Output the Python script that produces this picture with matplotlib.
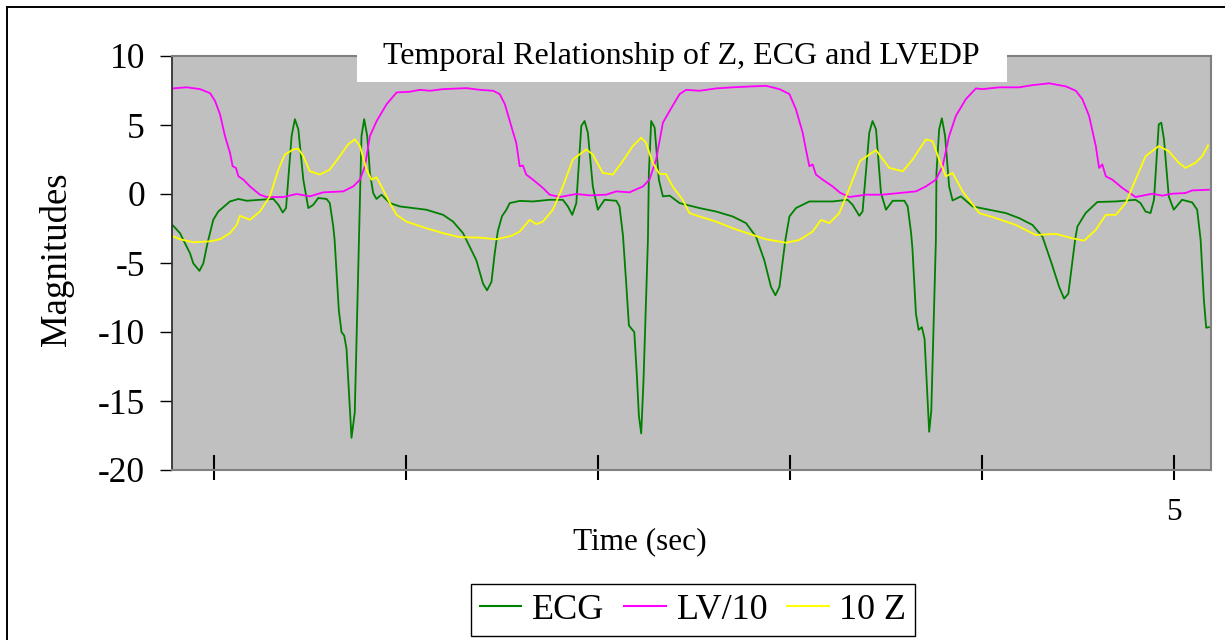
import matplotlib
matplotlib.use('Agg')
import matplotlib.pyplot as plt
from matplotlib.patches import Rectangle

plt.rcParams['font.family'] = ['Liberation Serif', 'DejaVu Serif']

# ---------------- data (time in seconds, magnitudes) ----------------
ecg_t = [-0.217, -0.177, -0.160, -0.125, -0.108, -0.076, -0.056, -0.038, -0.030, -0.004,
         0.022, 0.083, 0.127, 0.170, 0.239, 0.309, 0.335, 0.358, 0.375, 0.404,
         0.421, 0.439, 0.465, 0.491, 0.517, 0.543, 0.586, 0.603, 0.621, 0.628,
         0.650, 0.664, 0.678, 0.690, 0.716, 0.733, 0.742, 0.754, 0.768, 0.782,
         0.798, 0.812, 0.829, 0.846, 0.872, 0.916, 0.968, 1.106, 1.193, 1.245,
         1.297, 1.349, 1.366, 1.401, 1.422, 1.445, 1.462, 1.478, 1.500, 1.523,
         1.540, 1.592, 1.661, 1.748, 1.817, 1.843, 1.866, 1.887, 1.913, 1.930,
         1.947, 1.973, 1.999, 2.034, 2.095, 2.112, 2.130, 2.147, 2.161, 2.189,
         2.202, 2.213, 2.225, 2.237, 2.260, 2.265, 2.277, 2.295, 2.317, 2.338,
         2.373, 2.425, 2.529, 2.615, 2.702, 2.771, 2.823, 2.866, 2.901, 2.924,
         2.945, 2.976, 2.997, 3.031, 3.101, 3.222, 3.300, 3.326, 3.361, 3.378,
         3.413, 3.430, 3.448, 3.474, 3.500, 3.535, 3.596, 3.613, 3.631, 3.638,
         3.656, 3.670, 3.687, 3.701, 3.725, 3.736, 3.748, 3.760, 3.763, 3.777,
         3.791, 3.808, 3.829, 3.847, 3.890, 3.951, 4.037, 4.124, 4.194, 4.263,
         4.315, 4.362, 4.402, 4.428, 4.450, 4.485, 4.497, 4.540, 4.601, 4.697,
         4.800, 4.826, 4.852, 4.878, 4.896, 4.921, 4.934, 4.948, 4.973, 4.999,
         5.042, 5.095, 5.121, 5.139, 5.156, 5.168, 5.182]
ecg_v = [-2.24, -2.84, -3.33, -4.30, -5.03, -5.57, -5.03, -3.82, -3.33, -1.87,
         -1.27, -0.54, -0.36, -0.49, -0.42, -0.36, -0.78, -1.34, -1.02, 4.20,
         5.42, 4.69, 1.04, -1.02, -0.78, -0.29, -0.36, -0.66, -2.36, -3.33,
         -8.43, -10.01, -10.26, -11.22, -17.67, -15.84, -10.62, -3.33, 4.20, 5.42,
         4.20, 1.53, 0.07, -0.36, -0.05, -0.66, -0.90, -1.14, -1.51, -2.00,
         -2.84, -4.30, -4.79, -6.49, -6.98, -6.37, -4.30, -2.70, -1.60, -1.14,
         -0.66, -0.50, -0.54, -0.42, -0.42, -0.90, -1.51, -0.66, 4.93, 5.29,
         4.45, 0.55, -1.14, -0.42, -0.49, -0.90, -3.00, -6.49, -9.53, -10.01,
         -13.05, -16.08, -17.35, -13.53, -3.33, 1.53, 5.29, 4.81, 1.04, -0.17,
         -0.12, -0.66, -1.02, -1.27, -1.63, -2.11, -3.09, -4.79, -6.73, -7.34,
         -6.73, -3.33, -1.63, -1.02, -0.54, -0.54, -0.42, -0.78, -1.58, -1.27,
         4.45, 5.29, 4.69, 0.07, -1.14, -0.49, -0.49, -0.90, -2.84, -4.00,
         -8.67, -9.84, -9.65, -10.50, -17.23, -15.72, -9.40, -3.33, 1.53, 4.69,
         5.49, 4.20, 0.55, -0.47, -0.17, -0.90, -1.14, -1.38, -1.75, -2.24,
         -3.09, -5.00, -6.73, -7.58, -7.22, -3.33, -2.36, -1.38, -0.58, -0.54,
         -0.42, -0.66, -1.27, -1.38, -0.42, 5.05, 5.17, 3.96, -0.17, -1.14,
         -0.42, -0.61, -1.14, -3.33, -7.70, -9.69, -9.65]

lv_t = [-0.217, -0.142, -0.073, -0.021, 0.005, 0.031, 0.057, 0.083, 0.097, 0.114,
        0.127, 0.153, 0.187, 0.239, 0.274, 0.361, 0.430, 0.499, 0.569, 0.673,
        0.725, 0.760, 0.786, 0.812, 0.847, 0.899, 0.951, 1.020, 1.072, 1.124,
        1.193, 1.315, 1.384, 1.454, 1.488, 1.515, 1.557, 1.574, 1.592, 1.609,
        1.626, 1.661, 1.713, 1.748, 1.800, 1.887, 1.956, 2.043, 2.095, 2.164,
        2.234, 2.268, 2.303, 2.338, 2.373, 2.425, 2.459, 2.529, 2.615, 2.702,
        2.806, 2.875, 2.945, 2.997, 3.031, 3.066, 3.083, 3.101, 3.118, 3.135,
        3.170, 3.222, 3.260, 3.309, 3.396, 3.482, 3.569, 3.656, 3.708, 3.760,
        3.795, 3.829, 3.864, 3.916, 3.968, 4.003, 4.090, 4.194, 4.263, 4.350,
        4.437, 4.489, 4.523, 4.558, 4.593, 4.610, 4.627, 4.645, 4.679, 4.731,
        4.800, 4.887, 4.939, 4.991, 5.060, 5.095, 5.182]
lv_v = [7.65, 7.73, 7.60, 7.31, 6.75, 5.78, 4.20, 2.99, 2.01, 1.89,
        1.28, 1.04, 0.55, -0.05, -0.22, -0.22, 0.00, -0.17, 0.12, 0.19,
        0.55, 1.04, 2.01, 4.20, 5.29, 6.51, 7.36, 7.41, 7.55, 7.48,
        7.60, 7.67, 7.55, 7.48, 7.24, 6.50, 4.50, 3.72, 2.01, 2.06,
        1.41, 1.04, 0.44, -0.05, -0.22, 0.00, -0.10, -0.05, 0.19, 0.12,
        0.55, 1.04, 2.50, 5.17, 6.02, 7.24, 7.55, 7.48, 7.65, 7.73,
        7.80, 7.84, 7.60, 7.24, 6.14, 4.45, 3.23, 2.01, 2.14, 1.41,
        1.04, 0.55, 0.10, -0.22, -0.05, -0.05, 0.07, 0.19, 0.55, 1.04,
        2.01, 4.20, 5.66, 6.87, 7.65, 7.60, 7.73, 7.73, 7.89, 8.02,
        7.80, 7.48, 6.87, 5.66, 3.47, 1.89, 2.14, 1.28, 1.04, 0.44,
        -0.22, 0.02, -0.12, 0.02, 0.07, 0.26, 0.31]

z_t = [-0.217, -0.177, -0.108, -0.021, 0.031, 0.083, 0.118, 0.135, 0.187, 0.239,
       0.291, 0.335, 0.369, 0.413, 0.439, 0.465, 0.499, 0.551, 0.603, 0.655,
       0.698, 0.733, 0.760, 0.794, 0.820, 0.846, 0.872, 0.916, 0.951, 1.002,
       1.106, 1.193, 1.280, 1.384, 1.470, 1.548, 1.592, 1.644, 1.679, 1.713,
       1.765, 1.817, 1.869, 1.939, 1.973, 2.025, 2.077, 2.129, 2.181, 2.225,
       2.250, 2.285, 2.320, 2.354, 2.389, 2.441, 2.476, 2.529, 2.615, 2.702,
       2.789, 2.875, 2.979, 3.049, 3.118, 3.162, 3.205, 3.257, 3.309, 3.365,
       3.448, 3.517, 3.587, 3.639, 3.708, 3.743, 3.777, 3.812, 3.847, 3.899,
       3.986, 4.072, 4.176, 4.280, 4.384, 4.471, 4.532, 4.593, 4.645, 4.697,
       4.749, 4.800, 4.852, 4.921, 4.973, 5.025, 5.060, 5.112, 5.147, 5.178]
z_v = [-3.04, -3.28, -3.50, -3.43, -3.28, -2.84, -2.24, -1.58, -1.87, -1.27,
       -0.17, 1.77, 2.86, 3.23, 3.28, 2.74, 1.65, 1.41, 1.77, 2.74,
       3.59, 3.96, 3.47, 1.77, 1.04, 1.21, 0.55, -0.66, -1.51, -2.00,
       -2.48, -2.84, -3.13, -3.16, -3.28, -3.04, -2.72, -1.87, -2.19, -2.00,
       -1.14, 0.55, 2.50, 3.23, 2.86, 1.53, 1.41, 2.38, 3.47, 4.08,
       3.72, 2.26, 1.46, 1.46, 0.55, -0.42, -1.38, -1.63, -2.00, -2.48,
       -2.89, -3.28, -3.53, -3.33, -2.72, -1.87, -2.11, -1.38, 0.40, 2.40,
       3.18, 1.89, 1.65, 2.50, 3.96, 3.83, 2.50, 1.28, 1.53, 0.19,
       -1.38, -1.75, -2.24, -2.97, -2.89, -3.21, -3.38, -2.60, -1.51, -1.51,
       -0.66, 1.04, 2.74, 3.47, 3.10, 2.26, 1.89, 2.26, 2.74, 3.52]

series_labels = ['ECG', 'LV/10', '10 Z']
series_colors = ['#008000', '#FF00FF', '#FFFF00']

y_ticks = [-20, -15, -10, -5, 0, 5, 10]
y_tick_labels = ['-20', '-15', '-10', '-5', '0', '5', '10']
x_ticks = [0, 1, 2, 3, 4, 5]
x_tick_labels = ['', '', '', '', '', '5']

title = 'Temporal Relationship of Z, ECG and LVEDP'
x_label = 'Time (sec)'
y_label = 'Magnitudes'

# ---------------- figure ----------------
W, H = 1225, 640
fig = plt.figure(figsize=(W / 100, H / 100), dpi=100)
fig.patch.set_facecolor('white')

ax = fig.add_axes([172 / W, 1 - 470 / H, (1211 - 172) / W, (470 - 56) / H])
ax.set_facecolor('#C0C0C0')

handles = []
for t, v, lab, col in zip([ecg_t, lv_t, z_t], [ecg_v, lv_v, z_v], series_labels, series_colors):
    h, = ax.plot(t, v, color=col, lw=1.3, label=lab, solid_joinstyle='round')
    handles.append(h)

ax.set_xlim(-0.219, 5.193)
ax.set_ylim(-20, 10)

ax.set_yticks(y_ticks)
ax.set_yticklabels(y_tick_labels, fontsize=25.5)
ax.tick_params(axis='y', direction='out', length=8.5, width=1.0, color='black', pad=11)

ax.set_xticks(x_ticks)
ax.set_xticklabels(x_tick_labels, fontsize=22.5)
ax.set_xticks(x_ticks, minor=True)
ax.xaxis.remove_overlapping_locs = False
ax.tick_params(axis='x', which='major', direction='in', length=10.8, width=1.5,
               color='black', pad=20)
ax.tick_params(axis='x', which='minor', direction='out', length=7.2, width=1.5,
               color='black')

for side in ['top', 'right', 'bottom']:
    ax.spines[side].set_color('#808080')
    ax.spines[side].set_linewidth(1.5)
ax.spines['left'].set_color('#333333')
ax.spines['left'].set_linewidth(1.3)

ax.set_xlabel(x_label, fontsize=22.5)
ax.xaxis.set_label_coords((640 - 172) / (1211 - 172), (470 - 527) / 414)
ax.set_ylabel(y_label, fontsize=26.5)
ax.yaxis.set_label_coords((74 - 172) / (1211 - 172), 0.51)

# title with white box over the plot area
fig.patches.append(Rectangle((357 / W, 1 - 82 / H), 650 / W, 60 / H,
                             transform=fig.transFigure, facecolor='white',
                             edgecolor='none', zorder=5))
fig.text(681 / W, 1 - 64 / H, title, ha='center', va='baseline',
         fontsize=23, zorder=6)

# legend
leg = fig.legend(handles, series_labels, loc='center',
                 bbox_to_anchor=(693 / W, 1 - 610 / H), ncol=3, fontsize=26,
                 frameon=True, fancybox=False, edgecolor='black', framealpha=1,
                 handlelength=1.15, handletextpad=0.3, columnspacing=0.55,
                 borderpad=0.25, borderaxespad=0)
leg.get_frame().set_linewidth(1.0)
for line in leg.get_lines():
    line.set_linewidth(1.5)

# outer chart frame (left and top edges visible)
fig.patches.append(Rectangle((7 / W, -0.5), 2.0, (1 - 7 / H) + 0.5,
                             transform=fig.transFigure, fill=False,
                             edgecolor='black', linewidth=1.4, zorder=10))

fig.savefig('out.png', dpi=100)
